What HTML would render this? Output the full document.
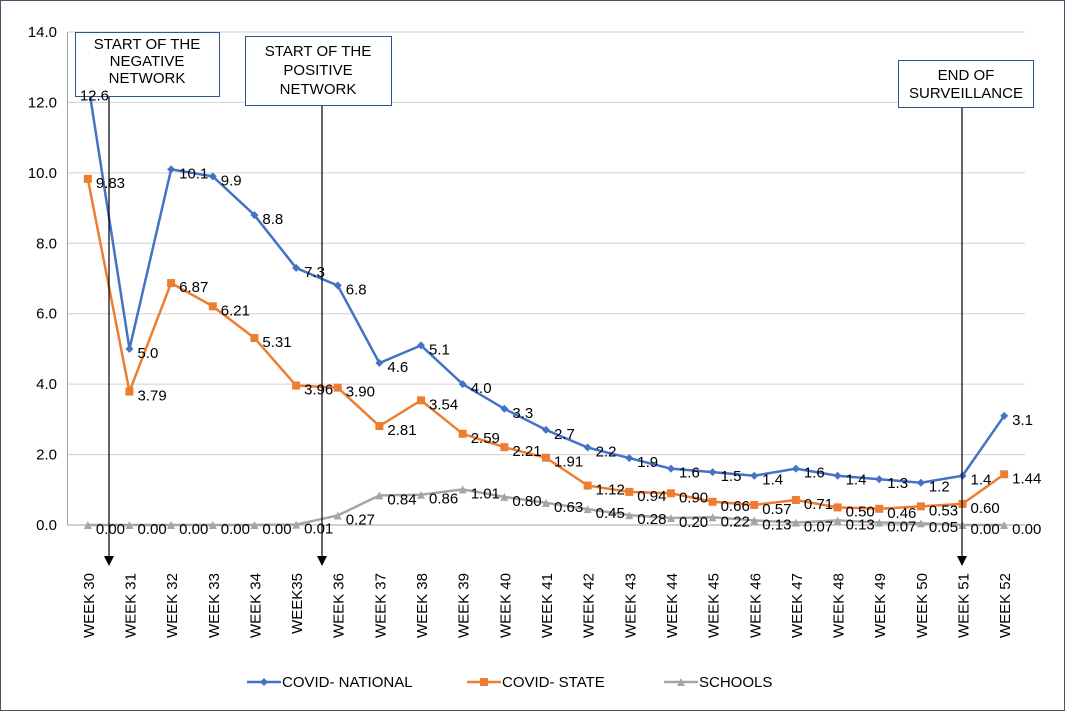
<!DOCTYPE html>
<html><head><meta charset="utf-8"><style>
body{margin:0;background:#fff;}
svg{display:block;font-family:"Liberation Sans",Arial,sans-serif;}
</style></head><body>
<svg id="chart" width="1065" height="711" viewBox="0 0 1065 711" xmlns="http://www.w3.org/2000/svg">
<rect x="0.5" y="0.5" width="1064" height="710" fill="#fff" stroke="#44546a"/>
<g id="grid"></g><g id="series"></g>
<g id="annot" font-size="15" fill="#000" text-anchor="middle">
<rect x="75.5" y="32.5" width="144" height="64" fill="#fff" stroke="#2f5597"/>
<text x="147" y="49"><tspan x="147">START OF THE</tspan><tspan x="147" dy="17">NEGATIVE</tspan><tspan x="147" dy="17">NETWORK</tspan></text>
<rect x="245.5" y="36.5" width="146" height="69" fill="#fff" stroke="#2f5597"/>
<text x="318" y="56"><tspan x="318">START OF THE</tspan><tspan x="318" dy="19">POSITIVE</tspan><tspan x="318" dy="19">NETWORK</tspan></text>
<rect x="898.5" y="60.5" width="135" height="47" fill="#fff" stroke="#2f5597"/>
<text x="966" y="80"><tspan x="966">END OF</tspan><tspan x="966" dy="18">SURVEILLANCE</tspan></text>
<g stroke="#000" stroke-width="1.2">
<line x1="109" y1="97" x2="109" y2="556"/><line x1="322" y1="106" x2="322" y2="556"/><line x1="962" y1="108" x2="962" y2="556"/>
</g>
<g fill="#000"><polygon points="104,556 114,556 109,566"/><polygon points="317,556 327,556 322,566"/><polygon points="957,556 967,556 962,566"/></g>
</g>
<g id="labels"></g><g id="xaxis"></g>
<g id="legend" font-size="15" fill="#000">
<g><line x1="247" y1="682" x2="281" y2="682" stroke="#4472c4" stroke-width="2.5"/><polygon points="264,678 268,682 264,686 260,682" fill="#4472c4"/><text x="282" y="687">COVID- NATIONAL</text></g>
<g><line x1="467" y1="682" x2="501" y2="682" stroke="#ed7d31" stroke-width="2.5"/><rect x="480" y="678" width="8" height="8" fill="#ed7d31"/><text x="502" y="687">COVID- STATE</text></g>
<g><line x1="664" y1="682" x2="698" y2="682" stroke="#a5a5a5" stroke-width="2.5"/><polygon points="681,678 685,686 677,686" fill="#a5a5a5"/><text x="699" y="687">SCHOOLS</text></g>
</g>
</svg>
<script>
const categories=["WEEK 30","WEEK 31","WEEK 32","WEEK 33","WEEK 34","WEEK35","WEEK 36","WEEK 37","WEEK 38","WEEK 39","WEEK 40","WEEK 41","WEEK 42","WEEK 43","WEEK 44","WEEK 45","WEEK 46","WEEK 47","WEEK 48","WEEK 49","WEEK 50","WEEK 51","WEEK 52"];
const national=[12.6,5.0,10.1,9.9,8.8,7.3,6.8,4.6,5.1,4.0,3.3,2.7,2.2,1.9,1.6,1.5,1.4,1.6,1.4,1.3,1.2,1.4,3.1];
const stateVals=[9.83,3.79,6.87,6.21,5.31,3.96,3.90,2.81,3.54,2.59,2.21,1.91,1.12,0.94,0.90,0.66,0.57,0.71,0.50,0.46,0.53,0.60,1.44];
const schools=[0,0,0,0,0,0.01,0.27,0.84,0.86,1.01,0.80,0.63,0.45,0.28,0.20,0.22,0.13,0.07,0.13,0.07,0.05,0.00,0.00];
const yTicks=[0,2,4,6,8,10,12,14];
const NS="http://www.w3.org/2000/svg";
const L=67,R=1025,T=32,B=525,yMax=14;
const bw=(R-L)/categories.length;
const x=i=>L+bw*(i+0.5);
const y=v=>B-(v/yMax)*(B-T);
function mk(t,a,p){const e=document.createElementNS(NS,t);for(const k in a)e.setAttribute(k,a[k]);p.appendChild(e);return e;}
const grid=document.getElementById('grid');
yTicks.forEach(t=>{
 const l=mk('line',{x1:L,x2:R,y1:y(t),y2:y(t),stroke:t===0?'#a0a0a0':'#d0d0d0'},grid);
 
 
 const tx=mk('text',{x:57,y:y(t)+5,'text-anchor':'end','font-size':15,fill:'#000'},grid);
 tx.textContent=t.toFixed(1);
 
 
});
const ax=mk('line',{x1:L+0.5,x2:L+0.5,y1:T,y2:B,stroke:'#a0a0a0'},grid);


const xa=document.getElementById('xaxis');
categories.forEach((c,i)=>{
 const t=mk('text',{transform:`translate(${x(i)+6},573) rotate(-90)`,'text-anchor':'end','font-size':15,fill:'#000'},xa);
 t.textContent=c;
 
 
});
const sg=document.getElementById('series'),lg=document.getElementById('labels');
function draw(vals,color,shape,name,fmt){
 const pl=mk('polyline',{points:vals.map((v,i)=>x(i)+','+y(v)).join(' '),fill:'none',stroke:color,'stroke-width':2.5},sg);
 
 
 vals.forEach((v,i)=>{
  const cx=x(i),cy=y(v);let m;
  if(shape==='d')m=mk('polygon',{points:`${cx},${cy-4} ${cx+4},${cy} ${cx},${cy+4} ${cx-4},${cy}`,fill:color},sg);
  else if(shape==='s')m=mk('rect',{x:cx-4,y:cy-4,width:8,height:8,fill:color},sg);
  else m=mk('polygon',{points:`${cx},${cy-4} ${cx+4},${cy+4} ${cx-4},${cy+4}`,fill:color},sg);
  
  
  const first=(i===0&&shape==='d');
  const t=mk('text',{x:first?cx-8:cx+8,y:first?cy+19:cy+9,'font-size':15,fill:'#000'},lg);
  t.textContent=v.toFixed(fmt);
  
  
 });
}
draw(schools,'#a5a5a5','t','schools',2);
draw(stateVals,'#ed7d31','s','covid-state',2);
draw(national,'#4472c4','d','covid-national',1);
</script>
</body></html>
